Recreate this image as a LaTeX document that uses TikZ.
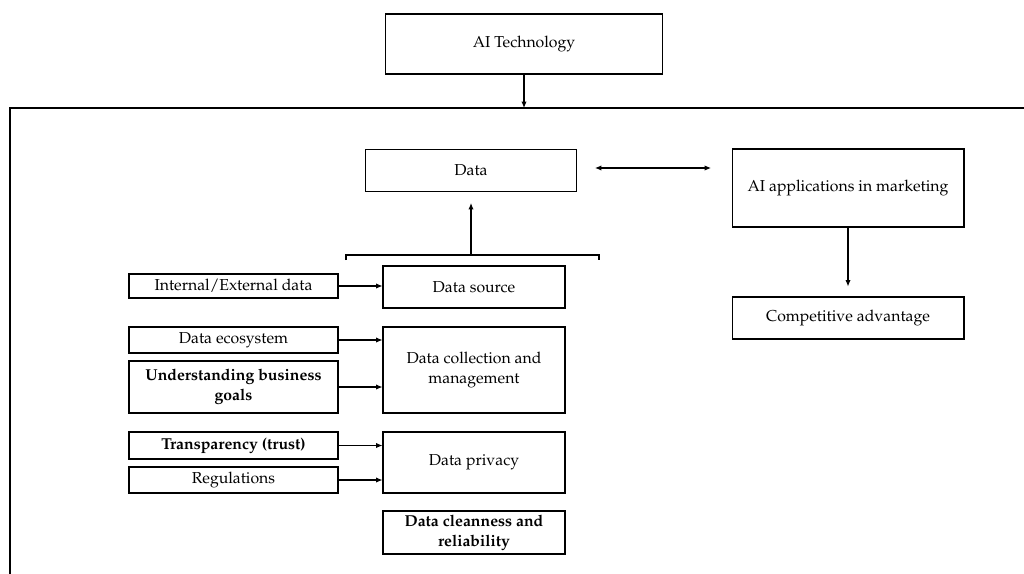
\documentclass[tikz,border=0pt]{standalone}
\usepackage[T1]{fontenc}
\usepackage{mathpazo}
\usetikzlibrary{arrows.meta,positioning,calc}
\tikzset{
  blk/.style={draw,rectangle,line width=0.6pt,align=center,inner sep=2pt,font=\fontsize{9}{11.5}\selectfont},
  srcblk/.style={blk,minimum width=4.18cm},
  midblk/.style={blk,minimum width=3.64cm},
  rgtblk/.style={blk,minimum width=4.64cm},
  bld/.style={font=\fontsize{9}{11.5}\selectfont\bfseries},
  arr/.style={-{Latex[length=3.6pt,width=3pt]},line width=0.6pt},
  dbl/.style={{Latex[length=3.6pt,width=3pt]}-{Latex[length=3.6pt,width=3pt]},line width=0.6pt},
  ln/.style={line width=0.6pt}
}
\begin{document}
\begin{tikzpicture}[x=0.02cm,y=-0.02cm]
  \useasboundingbox (0,0) rectangle (1024,574);

  \node[blk, minimum width=5.54cm, minimum height=1.2cm] (tech) at (524,44) {AI Technology};
  \draw[ln] (10,574) -- (10,108) -- (1024,108);
  \coordinate (frmtop) at (524,108);
  \draw[arr] (tech.south) -- (frmtop);

  \node[blk, minimum width=4.22cm, minimum height=0.84cm] (data) at (471,170.5) {Data};
  \node[rgtblk, minimum height=1.56cm] (apps) at (848,188) {AI applications in marketing};
  \node[rgtblk, minimum height=0.84cm] (comp) at (848,318) {Competitive advantage};
  \coordinate (dL) at (595,168);
  \coordinate (dR) at (711,168);
  \draw[dbl] (dL) -- (dR);
  \draw[arr, shorten >=0.2cm] (apps.south) -- (comp.north);

  \node[midblk, minimum height=0.84cm] (src) at (474,287) {Data source};
  \node[midblk, minimum height=1.72cm] (coll) at (474,370) {Data collection and\\management};
  \node[midblk, minimum height=1.22cm] (priv) at (474,462.5) {Data privacy};
  \node[midblk, bld, minimum height=0.86cm] (clean) at (474,532.5) {Data cleanness and\\reliability};

  \node[srcblk, minimum height=0.48cm] (intext) at (233.5,286) {Internal/External data};
  \node[srcblk, minimum height=0.52cm] (eco) at (233.5,340) {Data ecosystem};
  \node[srcblk, bld, minimum height=1.04cm] (goals) at (233.5,387) {Understanding business\\goals};
  \node[srcblk, bld, minimum height=0.54cm] (trans) at (233.5,445.5) {Transparency (trust)};
  \node[srcblk, minimum height=0.52cm] (reg) at (233.5,480) {Regulations};

  \draw[arr] (intext.east) -- (intext.east -| src.west);
  \draw[arr] (eco.east) -- (eco.east -| coll.west);
  \draw[arr] (goals.east) -- (goals.east -| coll.west);
  \draw[arr] (trans.east) -- (trans.east -| priv.west);
  \draw[arr] (reg.east) -- (reg.east -| priv.west);

  \coordinate (brL) at (346,260);
  \coordinate (brR) at (599,260);
  \coordinate (brM) at (471,255);
  \draw[ln] (brL) -- ++(0,-5) -- ($(brR)+(0,-5)$) -- (brR);
  \draw[arr, shorten >=0.22cm] (brM) -- (data.south);
\end{tikzpicture}
\end{document}
